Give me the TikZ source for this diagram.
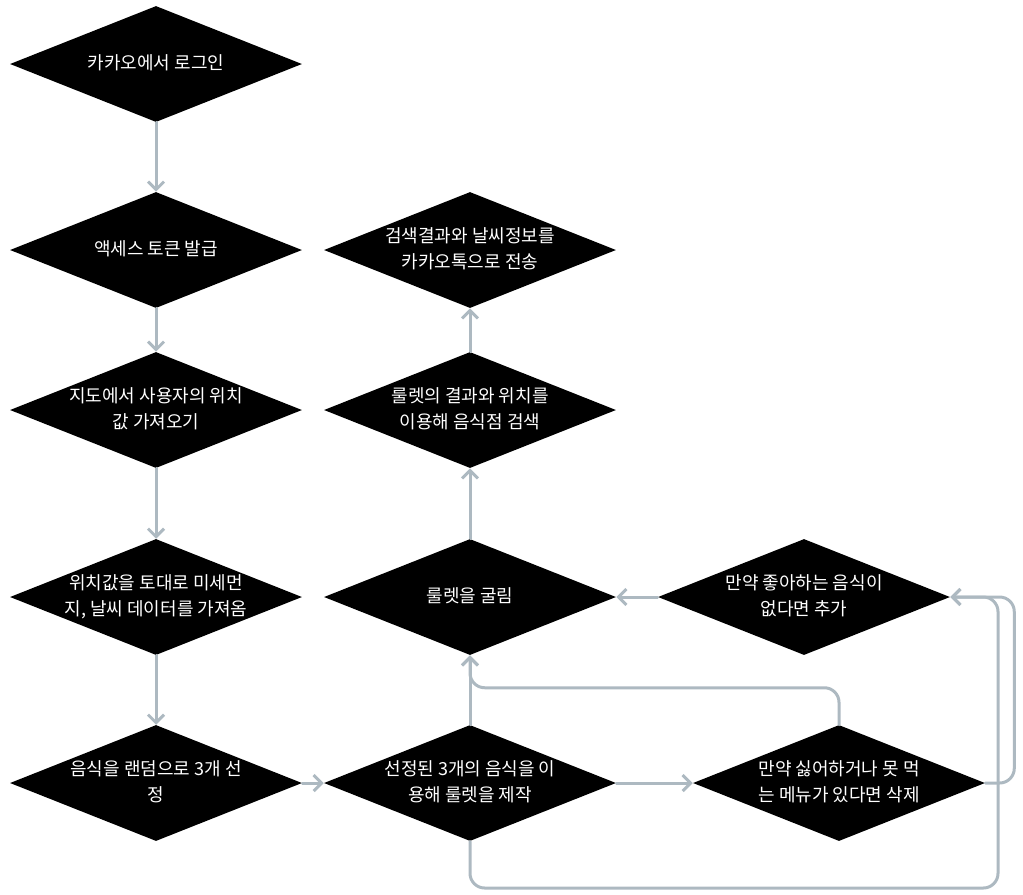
\documentclass[tikz,border=0pt]{standalone}
\usepackage{fontspec}
\setmainfont{Noto Sans CJK KR}
\usetikzlibrary{shapes.geometric, arrows.meta}
\definecolor{flowline}{HTML}{ADB9C1}
\newcommand{\dlines}[1]{\makebox[0pt]{\begin{tabular}{@{}c@{}}#1\end{tabular}}}
\tikzset{
	decision/.style={diamond, fill=black, inner sep=0pt, minimum width=219pt, minimum height=87pt, text=white, font=\fontsize{13.5}{19.5}\selectfont},
	flow/.style={draw=flowline, line width=2.25pt, line cap=round, rounded corners=11pt, -{Straight Barb[length=6pt, width=12pt]}}
}
\begin{document}
\begin{tikzpicture}[x=0.75pt, y=-0.75pt]
			\useasboundingbox (0,0) rectangle (1023,894);
			%left column
			\node[decision] (login) at (156, 64){\dlines{카카오에서 로그인}};
			\node[decision] (token) at (156, 250){\dlines{액세스 토큰 발급}};
			\node[decision] (locate) at (156, 410){\dlines{지도에서 사용자의 위치\\값 가져오기}};
			\node[decision] (weather) at (156, 597){\dlines{위치값을 토대로 미세먼\\지, 날씨 데이터를 가져옴}};
			\node[decision] (pick) at (156, 783){\dlines{음식을 랜덤으로 3개 선\\정}};
			
			%middle column
			\node[decision] (send) at (470, 250){\dlines{검색결과와 날씨정보를\\카카오톡으로 전송}};
			\node[decision] (search) at (470, 410){\dlines{룰렛의 결과와 위치를\\이용해 음식점 검색}};
			\node[decision] (spin) at (470, 597){\dlines{룰렛을 굴림}};
			\node[decision] (make) at (470, 783){\dlines{선정된 3개의 음식을 이\\용해 룰렛을 제작}};
			
			%right column
			\node[decision] (like) at (804, 597){\dlines{만약 좋아하는 음식이\\없다면 추가}};
			\node[decision] (drop) at (839, 783){\dlines{만약 싫어하거나 못 먹\\는 메뉴가 있다면 삭제}};
			
			\draw[flow] (login) -- (token);
			\draw[flow] (token) -- (locate);
			\draw[flow] (locate) -- (weather);
			\draw[flow] (weather) -- (pick);
			\draw[flow] (pick) -- (make);
			\draw[flow] (make) -- (drop);
			\draw[flow] (make) -- (spin);
			\draw[flow] (drop.north) -- ++(0,-37) -| (spin.south);
			\draw[flow] (make.south) |- (998, 888) |- (like.east);
			\draw[flow] (drop.east) -- ++(29,0) |- (like.east);
			\draw[flow] (like) -- (spin);
			\draw[flow] (spin) -- (search);
			\draw[flow] (search) -- (send);
		\end{tikzpicture}
\end{document}
